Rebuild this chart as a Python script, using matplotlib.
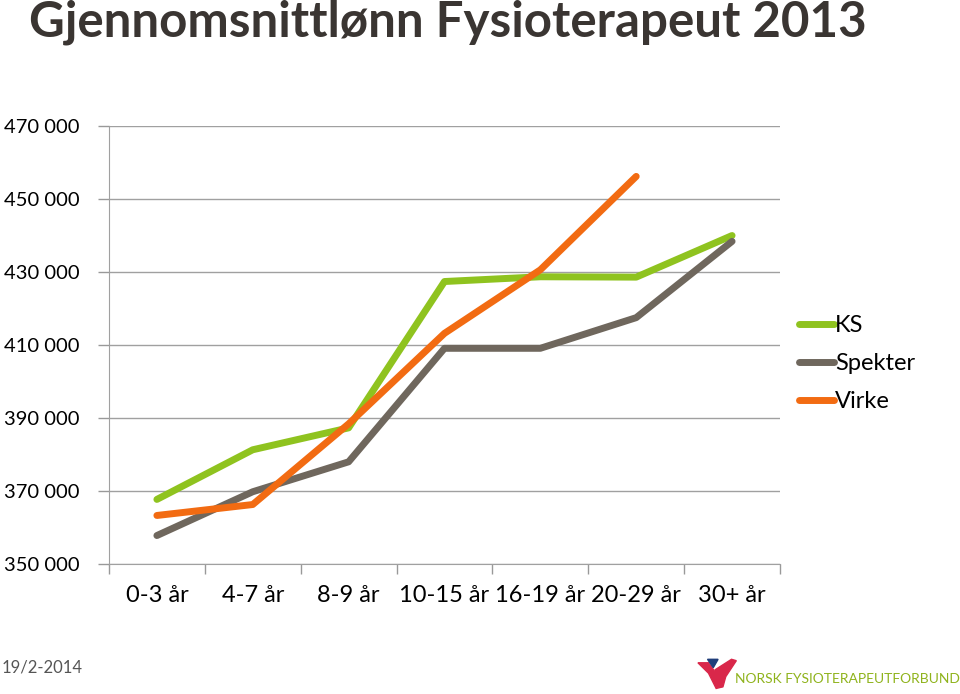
import matplotlib
matplotlib.use("Agg")
import matplotlib.pyplot as plt
from matplotlib.patches import Polygon
import matplotlib.ticker as ticker

plt.rcParams['font.family'] = ['Lato', 'DejaVu Sans']

categories = ['0-3 år', '4-7 år', '8-9 år', '10-15 år', '16-19 år', '20-29 år', '30+ år']
ks = [367700, 381300, 387300, 427400, 428700, 428600, 440000]
spekter = [357800, 369800, 378000, 409100, 409100, 417500, 438400]
virke = [363300, 366300, 388400, 413200, 430600, 456200]
yticks = [350000, 370000, 390000, 410000, 430000, 450000, 470000]

series_names = ['KS', 'Spekter', 'Virke']
colors = ['#8fc31f', '#6f675d', '#f26b12']

fig = plt.figure(figsize=(9.6, 6.94), dpi=100)
ax = fig.add_axes([0.1135, 0.1873, 0.699, 0.6311])

x = list(range(len(categories)))
ax.plot(x, ks, color=colors[0], lw=5, label=series_names[0], solid_capstyle='round')
ax.plot(x, spekter, color=colors[1], lw=5, label=series_names[1], solid_capstyle='round')
ax.plot(x[:len(virke)], virke, color=colors[2], lw=5, label=series_names[2], solid_capstyle='round')

ax.set_xlim(-0.5, 6.5)
ax.set_ylim(350000, 470000)
ax.set_yticks(yticks)
ax.yaxis.set_major_formatter(ticker.FuncFormatter(lambda v, p: f'{int(v):,}'.replace(',', ' ')))
ax.set_xticks(x)
ax.set_xticklabels(categories)
ax.set_xticks([i - 0.5 for i in range(len(categories) + 1)], minor=True)
ax.tick_params(axis='x', which='major', length=0, pad=15, labelsize=17)
ax.tick_params(axis='x', which='minor', length=7, color='#999999', width=1)
ax.tick_params(axis='y', length=8, color='#999999', width=1, labelsize=14.5, pad=13)
ax.grid(axis='y', color='#a0a0a0', lw=1)
ax.set_axisbelow(True)
for s in ['top', 'right']:
    ax.spines[s].set_visible(False)
for s in ['left', 'bottom']:
    ax.spines[s].set_color('#a0a0a0')

leg = fig.legend(loc='upper left', bbox_to_anchor=(0.822, 0.56), frameon=False,
                 fontsize=17, handlelength=1.5, handletextpad=0.05, labelspacing=0.72,
                 borderaxespad=0)

fig.text(0.03, 0.968, 'Gjennomsnittlønn Fysioterapeut 2013', fontsize=35.5, fontweight='bold',
         color='#3a3532', va='center', ha='left')
fig.text(0.002, 0.038, '19/2-2014', fontsize=12, color='#555555', va='center', ha='left')

# logo
red = '#d9274a'
fig.patches.append(Polygon([(0.727, 0.045), (0.738, 0.045), (0.747, 0.028), (0.752, 0.01),
                            (0.746, 0.008), (0.738, 0.03)], closed=True, color=red,
                           transform=fig.transFigure))
fig.patches.append(Polygon([(0.745, 0.035), (0.762, 0.05), (0.767, 0.048), (0.756, 0.025),
                            (0.753, 0.01), (0.749, 0.012)], closed=True, color=red,
                           transform=fig.transFigure))
fig.patches.append(Polygon([(0.737, 0.05), (0.748, 0.05), (0.743, 0.038)], closed=True,
                           color='#1f3d7a', transform=fig.transFigure))
fig.text(0.766, 0.022, 'NORSK FYSIOTERAPEUTFORBUND', fontsize=10, color='#8fb31c',
         va='center', ha='left')

fig.savefig('out.png', dpi=100)
